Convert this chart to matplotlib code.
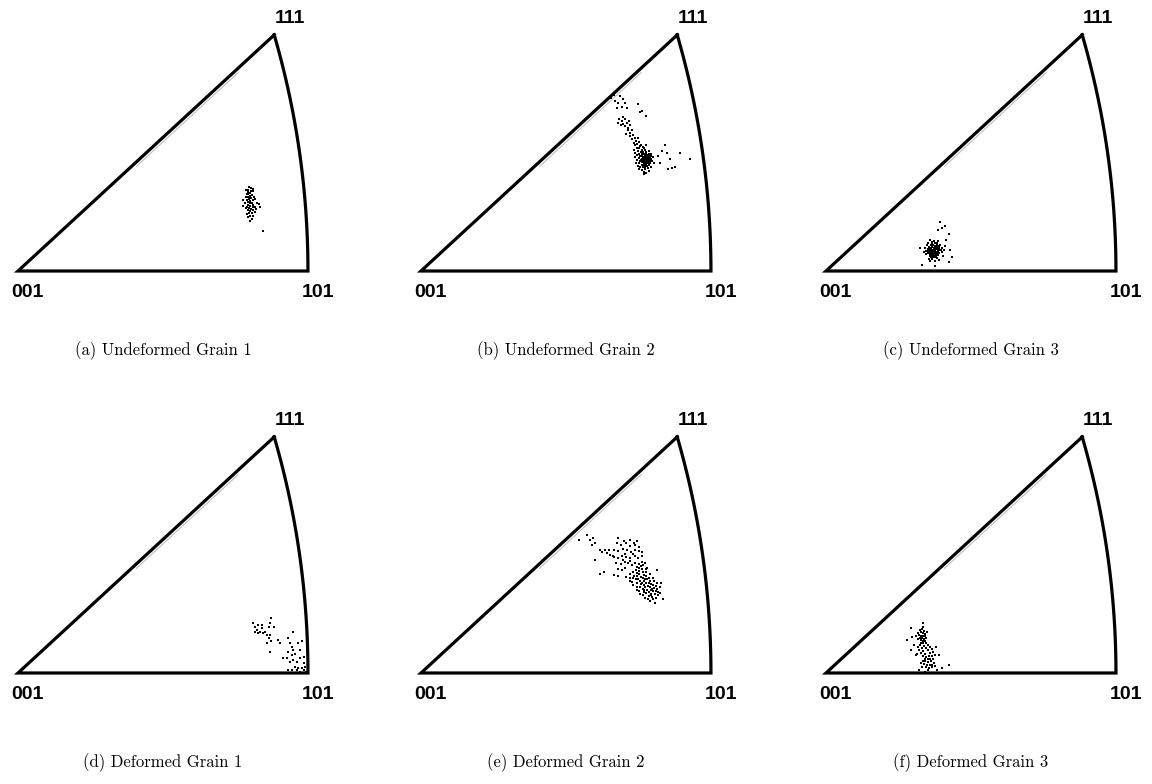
import numpy as np
import matplotlib
matplotlib.use("Agg")
import matplotlib.pyplot as plt

# ---------------- data (stereographic IPF coordinates x, y) ----------------
captions = ["(a) Undeformed Grain 1", "(b) Undeformed Grain 2", "(c) Undeformed Grain 3",
            "(d) Deformed Grain 1", "(e) Deformed Grain 2", "(f) Deformed Grain 3"]
corner_labels = ["001", "101", "111"]

grain_a = [(0.330,0.131),(0.333,0.128),(0.326,0.125),(0.329,0.122),(0.332,0.121),(0.336,0.124),
           (0.327,0.119),(0.331,0.117),(0.334,0.118),(0.329,0.115),(0.325,0.114),(0.333,0.113),
           (0.337,0.115),(0.330,0.111),(0.327,0.110),(0.332,0.109),(0.335,0.110),(0.339,0.112),
           (0.328,0.107),(0.331,0.106),(0.334,0.105),(0.324,0.106),(0.329,0.103),(0.336,0.103),
           (0.341,0.106),(0.332,0.101),(0.327,0.100),(0.330,0.098),(0.335,0.099),(0.338,0.100),
           (0.344,0.104),(0.322,0.101),(0.333,0.096),(0.328,0.094),(0.331,0.093),(0.336,0.094),
           (0.340,0.096),(0.325,0.097),(0.330,0.090),(0.334,0.090),(0.338,0.091),(0.327,0.088),
           (0.332,0.086),(0.336,0.085),(0.329,0.083),(0.334,0.080),(0.331,0.077),(0.322,0.110),
           (0.346,0.100),(0.350,0.062),(0.335,0.127),(0.328,0.126),(0.333,0.124),(0.331,0.114),
           (0.329,0.119)]

grain_b = [(0.272,0.268),(0.277,0.263),(0.275,0.273),(0.284,0.271),(0.282,0.260),(0.289,0.266),
           (0.287,0.255),(0.291,0.260),(0.294,0.253),(0.280,0.253),
           (0.310,0.259),(0.322,0.240),(0.315,0.248),(0.313,0.247),
           (0.283,0.236),(0.287,0.232),(0.291,0.235),(0.294,0.230),(0.289,0.228),(0.285,0.226),
           (0.297,0.233),(0.292,0.225),(0.299,0.227),(0.288,0.238),(0.295,0.222),(0.281,0.230),
           (0.296,0.218),(0.299,0.214),(0.301,0.219),(0.298,0.209),(0.303,0.211),(0.305,0.206),
           (0.301,0.204),(0.307,0.202),(0.304,0.199),(0.309,0.197),(0.311,0.200),(0.306,0.195),
           (0.313,0.194),(0.293,0.212),(0.310,0.206),
           (0.312,0.190),(0.315,0.188),(0.318,0.191),(0.310,0.186),(0.314,0.184),(0.317,0.185),
           (0.320,0.187),(0.312,0.182),(0.316,0.181),(0.319,0.182),(0.322,0.184),(0.309,0.180),
           (0.313,0.178),(0.317,0.177),(0.320,0.179),(0.323,0.180),(0.326,0.182),(0.311,0.175),
           (0.315,0.174),(0.318,0.173),(0.321,0.175),(0.324,0.176),(0.327,0.177),(0.308,0.172),
           (0.313,0.170),(0.316,0.169),(0.319,0.170),(0.322,0.171),(0.325,0.172),(0.329,0.174),
           (0.311,0.167),(0.315,0.165),(0.318,0.166),(0.321,0.166),(0.324,0.167),(0.327,0.168),
           (0.330,0.170),(0.313,0.162),(0.317,0.161),(0.320,0.162),(0.323,0.163),(0.326,0.164),
           (0.316,0.157),(0.320,0.158),(0.324,0.159),(0.319,0.154),(0.322,0.152),(0.306,0.176),
           (0.305,0.183),(0.307,0.167),(0.331,0.176),(0.328,0.162),(0.333,0.168),(0.310,0.163),
           (0.326,0.186),(0.317,0.193),(0.321,0.195),(0.314,0.196),(0.309,0.191),(0.329,0.181),
           (0.304,0.188),(0.318,0.150),(0.325,0.155),(0.312,0.158),
           (0.316,0.179),(0.319,0.176),(0.322,0.178),(0.325,0.179),(0.318,0.168),(0.321,0.169),
           (0.323,0.173),(0.326,0.175),(0.320,0.172),(0.317,0.171),(0.324,0.170),(0.327,0.171),
           (0.322,0.165),(0.325,0.166),(0.319,0.164),(0.328,0.178),(0.314,0.172),(0.321,0.181),
           (0.349,0.196),(0.351,0.183),(0.356,0.173),(0.370,0.183),(0.384,0.174),(0.358,0.160),
           (0.363,0.162),(0.353,0.158),(0.344,0.186),(0.339,0.178),(0.341,0.167)]

grain_c = [(0.150,0.040),(0.153,0.041),(0.156,0.039),(0.147,0.037),(0.151,0.037),(0.154,0.036),
           (0.158,0.037),(0.161,0.038),(0.145,0.034),(0.149,0.034),(0.152,0.033),(0.155,0.033),
           (0.159,0.034),(0.162,0.035),(0.143,0.031),(0.147,0.031),(0.150,0.030),(0.153,0.030),
           (0.157,0.030),(0.160,0.031),(0.164,0.032),(0.146,0.028),(0.149,0.027),(0.152,0.027),
           (0.155,0.027),(0.158,0.027),(0.162,0.028),(0.148,0.024),(0.151,0.024),(0.154,0.024),
           (0.157,0.024),(0.160,0.025),(0.150,0.021),(0.153,0.021),(0.156,0.021),(0.152,0.018),
           (0.155,0.044),(0.158,0.043),(0.151,0.045),(0.163,0.041),(0.144,0.040),(0.166,0.036),
           (0.165,0.029),(0.141,0.036),(0.143,0.026),(0.159,0.020),(0.147,0.019),(0.167,0.024),
           (0.154,0.046),(0.160,0.047),(0.146,0.044),(0.162,0.017),(0.156,0.016),(0.149,0.015),
           (0.168,0.033),(0.140,0.030),
           (0.152,0.039),(0.157,0.035),(0.150,0.035),(0.154,0.032),(0.148,0.032),(0.156,0.029),
           (0.151,0.029),(0.159,0.029),(0.153,0.026),(0.148,0.029),(0.155,0.023),(0.161,0.033),
           (0.145,0.031),(0.158,0.040),(0.152,0.043),
           (0.160,0.064),(0.165,0.066),(0.170,0.069),(0.175,0.058),(0.172,0.048),(0.149,0.048),
           (0.134,0.035),(0.137,0.009),(0.156,0.007),(0.180,0.022),(0.175,0.014),(0.170,0.038),
           (0.177,0.033),(0.163,0.076)]

grain_d = [(0.336,0.077),(0.339,0.072),(0.343,0.074),(0.348,0.069),(0.341,0.067),(0.346,0.064),
           (0.353,0.064),(0.358,0.072),(0.360,0.077),(0.362,0.085),(0.365,0.072),(0.355,0.059),
           (0.360,0.059),(0.358,0.054),(0.362,0.049),(0.355,0.046),(0.360,0.033),(0.350,0.062),
           (0.343,0.062),(0.339,0.064),(0.348,0.074),(0.372,0.051),(0.374,0.046),
           (0.393,0.064),(0.386,0.054),(0.389,0.046),(0.391,0.041),(0.393,0.036),(0.386,0.033),
           (0.396,0.030),(0.391,0.028),(0.400,0.046),(0.403,0.036),(0.405,0.049),(0.384,0.023),
           (0.389,0.017),(0.393,0.020),(0.398,0.017),(0.403,0.023),(0.408,0.015),(0.396,0.010),
           (0.400,0.007),(0.405,0.007),(0.410,0.010),(0.391,0.005),(0.403,0.002),(0.409,0.004),
           (0.411,0.002),(0.386,0.005),(0.398,0.005),(0.379,0.023),(0.408,0.025)]

grain_e = [(0.225,0.206),(0.237,0.214),(0.241,0.206),(0.246,0.209),(0.249,0.201),(0.244,0.198),
           (0.256,0.191),(0.263,0.191),(0.265,0.186),(0.258,0.188),(0.249,0.175),(0.261,0.157),
           (0.256,0.154),(0.282,0.209),(0.280,0.201),(0.275,0.180),(0.270,0.183),(0.268,0.191),
           (0.290,0.204),(0.298,0.206),(0.304,0.201),(0.309,0.204),
           (0.285,0.199),(0.293,0.201),(0.299,0.197),(0.306,0.199),(0.311,0.196),
           (0.276,0.191),(0.282,0.189),(0.288,0.192),(0.294,0.190),(0.300,0.188),(0.306,0.191),
           (0.311,0.189),(0.316,0.187),
           (0.274,0.181),(0.281,0.179),(0.287,0.182),(0.293,0.180),(0.299,0.178),(0.305,0.181),
           (0.310,0.179),(0.315,0.182),(0.291,0.185),(0.303,0.184),
           (0.279,0.171),(0.285,0.169),(0.291,0.172),(0.296,0.170),(0.301,0.168),(0.306,0.171),
           (0.311,0.169),(0.315,0.172),(0.320,0.170),(0.298,0.174),(0.288,0.175),
           (0.282,0.162),(0.287,0.160),(0.292,0.163),(0.309,0.165),(0.314,0.166),(0.323,0.163),
           (0.293,0.149),(0.298,0.153),(0.303,0.156),(0.307,0.160),(0.312,0.163),(0.317,0.167),
           (0.298,0.143),(0.303,0.147),(0.308,0.150),(0.312,0.154),(0.317,0.157),(0.322,0.161),
           (0.303,0.136),(0.308,0.140),(0.313,0.143),(0.317,0.147),(0.322,0.150),(0.327,0.154),
           (0.308,0.129),(0.313,0.133),(0.318,0.136),(0.322,0.140),(0.327,0.143),(0.332,0.147),
           (0.313,0.122),(0.318,0.126),(0.323,0.129),(0.327,0.133),(0.332,0.136),(0.337,0.140),
           (0.320,0.117),(0.325,0.120),(0.328,0.123),(0.332,0.127),(0.337,0.130),(0.341,0.134),
           (0.327,0.112),(0.331,0.115),(0.335,0.117),(0.338,0.121),(0.342,0.124),
           (0.299,0.148),(0.304,0.151),(0.308,0.155),(0.311,0.158),(0.316,0.162),
           (0.302,0.141),(0.307,0.145),(0.314,0.149),(0.318,0.152),(0.321,0.156),
           (0.309,0.134),(0.314,0.138),(0.319,0.142),(0.323,0.145),(0.326,0.148),
           (0.312,0.127),(0.317,0.131),(0.324,0.135),(0.328,0.138),(0.333,0.142),
           (0.317,0.121),(0.322,0.124),(0.329,0.128),(0.333,0.132),(0.336,0.135),
           (0.324,0.115),(0.330,0.118),(0.334,0.122),(0.338,0.125),
           (0.315,0.140),(0.320,0.133),(0.325,0.126),(0.330,0.131),(0.320,0.145),(0.326,0.139),
           (0.310,0.145),(0.335,0.127),(0.329,0.121),(0.319,0.129),
           (0.345,0.115),(0.343,0.140),(0.281,0.150),(0.276,0.152),(0.337,0.160),(0.334,0.108)]

grain_f = [(0.138,0.077),(0.121,0.069),(0.116,0.051),(0.123,0.056),(0.126,0.043),(0.121,0.036),
           (0.128,0.028),(0.157,0.041),(0.161,0.028),(0.176,0.012),(0.166,0.007),(0.159,0.005),
           (0.133,0.005),(0.142,0.002),
           (0.134,0.066),(0.137,0.068),(0.140,0.065),(0.135,0.063),(0.138,0.062),(0.141,0.061),
           (0.133,0.059),(0.136,0.058),(0.139,0.057),(0.142,0.058),(0.134,0.055),(0.137,0.054),
           (0.140,0.053),(0.143,0.054),(0.132,0.052),(0.135,0.051),(0.138,0.050),(0.141,0.049),
           (0.136,0.047),(0.139,0.046),(0.131,0.062),(0.144,0.063),(0.138,0.071),(0.129,0.057),
           (0.143,0.046),
           (0.134,0.043),(0.140,0.042),(0.145,0.044),(0.131,0.040),(0.137,0.039),(0.143,0.038),
           (0.148,0.040),(0.133,0.035),(0.139,0.034),(0.146,0.035),(0.151,0.037),(0.136,0.031),
           (0.142,0.030),(0.149,0.031),(0.153,0.033),(0.130,0.030),
           (0.139,0.027),(0.143,0.025),(0.147,0.027),(0.151,0.026),(0.155,0.028),(0.141,0.022),
           (0.145,0.021),(0.149,0.022),(0.153,0.021),(0.138,0.019),(0.142,0.018),(0.146,0.017),
           (0.150,0.018),(0.154,0.016),(0.140,0.014),(0.144,0.013),(0.148,0.012),(0.152,0.013),
           (0.143,0.009),(0.147,0.008),(0.151,0.009),(0.137,0.010),(0.145,0.004),(0.156,0.011),
           (0.135,0.016)]

grains = [grain_a, grain_b, grain_c, grain_d, grain_e, grain_f]

# ---------------- layout ----------------
W, H = 1152, 784
fig = plt.figure(figsize=(W / 100, H / 100), dpi=100)
fig.patch.set_facecolor("white")

col_x0 = [18, 421, 826]        # pixel x of the 001 corner
row_base = [271, 673]          # pixel y of the 001-101 edge
caption_y = [351, 763]
SX, SY = 700.0, 645.0          # pixels per stereographic unit
XL, YL = (-0.03, 0.45), (-0.02, 0.38)

x101 = np.sqrt(2) - 1
x111 = 1 / (1 + np.sqrt(3))
th = np.linspace(0, np.arctan2(x111, 1 + x111), 60)
arc_x = -1 + np.sqrt(2) * np.cos(th)
arc_y = np.sqrt(2) * np.sin(th)
outline_x = np.concatenate([[x111, 0, x101], arc_x])
outline_y = np.concatenate([[x111, 0, 0], arc_y])

cm_font = "cmr10"

for i, pts in enumerate(grains):
    r, c = divmod(i, 3)
    x0, base = col_x0[c], row_base[r]
    left = x0 + XL[0] * SX
    width = (XL[1] - XL[0]) * SX
    bottom_px = base - YL[0] * SY
    height = (YL[1] - YL[0]) * SY
    ax = fig.add_axes([left / W, (H - bottom_px) / H, width / W, height / H])
    ax.set_xlim(*XL)
    ax.set_ylim(*YL)
    ax.axis("off")

    # faint ghost line next to the 001-111 edge
    t = np.array([0.45, 0.85])
    ax.plot(t * x111 + 0.004, t * x111 - 0.003, color="0.75", lw=0.8,
            solid_capstyle="butt", clip_on=False)
    ax.plot(outline_x, outline_y, color="black", lw=2.3,
            solid_joinstyle="miter", clip_on=False)

    px = [p[0] for p in pts]
    py = [p[1] for p in pts]
    ax.scatter(px, py, s=3.0, marker="s", color="black", linewidths=0, zorder=3)

    ax.text(0.013, -0.033, corner_labels[0], ha="center", va="center",
            fontsize=14, fontweight="bold", family="Liberation Sans")
    ax.text(x101 + 0.014, -0.033, corner_labels[1], ha="center", va="center",
            fontsize=14, fontweight="bold", family="Liberation Sans")
    ax.text(x111 + 0.023, x111 + 0.026, corner_labels[2], ha="center", va="center",
            fontsize=14, fontweight="bold", family="Liberation Sans")

    cx = x0 + 145
    fig.text(cx / W, 1 - caption_y[r] / H, captions[i], ha="center", va="center",
             fontsize=12, family=cm_font)

fig.savefig("out.png", dpi=100, facecolor="white")
